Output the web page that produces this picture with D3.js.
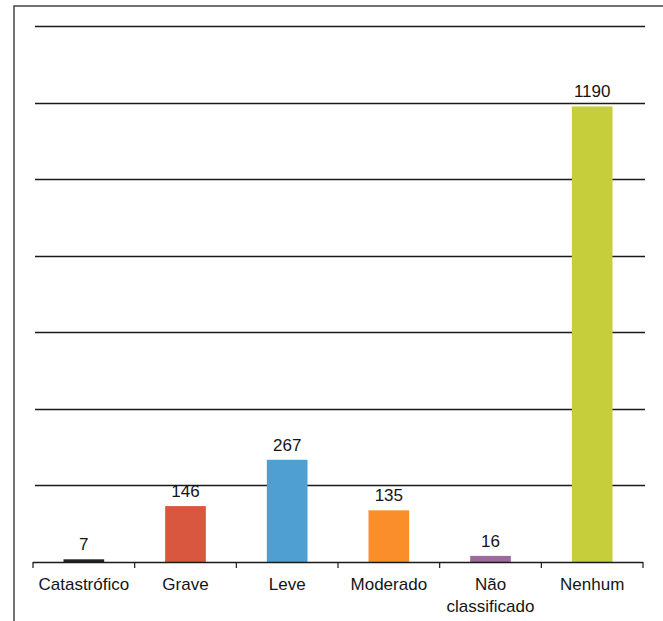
<!DOCTYPE html>
<html>
<head>
<meta charset="utf-8">
<script src="https://cdn.jsdelivr.net/npm/d3@7"></script>
<style>
  html, body { margin: 0; padding: 0; background: #fff; }
  svg { display: block; }
  text { font-family: "Liberation Sans", Arial, sans-serif; fill: #151515; }
</style>
</head>
<body>
<svg id="chart" width="663" height="621"></svg>
<script>
// Ocorrências por grau de dano
const categories = ["Catastrófico", "Grave", "Leve", "Moderado", "Não classificado", "Nenhum"];
const values = [7, 146, 267, 135, 16, 1190];
const colors = ["#222222", "#d8573e", "#4f9fd3", "#f98e2b", "#9c6b9c", "#c6cf3b"];
const yTicks = [0, 200, 400, 600, 800, 1000, 1200, 1400];

const svg = d3.select("#chart");
const margin = { left: 33, right: 20, top: 26, bottom: 59 };
const W = 663, H = 621;

const x = d3.scaleBand()
  .domain(categories)
  .range([margin.left, W - margin.right])
  .paddingInner(0.6)
  .paddingOuter(0.3);

const y = d3.scaleLinear()
  .domain([0, 1400])
  .range([H - margin.bottom, margin.top]);

// Outer frame
svg.append("rect")
  .attr("x", 14).attr("y", 6)
  .attr("width", 700).attr("height", 700)
  .attr("fill", "none")
  .attr("stroke", "#444").attr("stroke-width", 1.5);

// Horizontal gridlines
svg.append("g")
  .selectAll("line")
  .data(yTicks.filter(d => d > 0))
  .join("line")
  .attr("x1", 35).attr("x2", 645)
  .attr("y1", d => Math.round(y(d)) + 0.5)
  .attr("y2", d => Math.round(y(d)) + 0.5)
  .attr("stroke", "#1a1a1a").attr("stroke-width", 1.5);

// Bars
svg.append("g")
  .selectAll("rect")
  .data(values)
  .join("rect")
  .attr("x", (d, i) => x(categories[i]))
  .attr("width", x.bandwidth())
  .attr("y", d => y(d))
  .attr("height", d => y(0) - y(d))
  .attr("fill", (d, i) => colors[i]);

// Value labels
svg.append("g")
  .selectAll("text")
  .data(values)
  .join("text")
  .attr("x", (d, i) => x(categories[i]) + x.bandwidth() / 2)
  .attr("y", d => y(d) - 9)
  .attr("text-anchor", "middle")
  .attr("font-size", 17)
  .text(d => d);

// Category axis with ticks at band edges
const x0 = margin.left, x1 = W - margin.right;
const axis = svg.append("g");
axis.append("line")
  .attr("x1", x0).attr("x2", x1)
  .attr("y1", y(0) + 0.5).attr("y2", y(0) + 0.5)
  .attr("stroke", "#1a1a1a").attr("stroke-width", 1.5);

const edges = d3.range(categories.length + 1).map(i => x0 + i * (x1 - x0) / categories.length);
axis.selectAll("line.tick")
  .data(edges)
  .join("line")
  .attr("class", "tick")
  .attr("x1", d => d).attr("x2", d => d)
  .attr("y1", y(0)).attr("y2", y(0) + 6)
  .attr("stroke", "#1a1a1a").attr("stroke-width", 1.2);

const labels = axis.selectAll("text.cat")
  .data(categories)
  .join("text")
  .attr("class", "cat")
  .attr("x", d => x(d) + x.bandwidth() / 2)
  .attr("y", y(0) + 28)
  .attr("text-anchor", "middle")
  .attr("font-size", 17);

labels.each(function(d) {
  const words = d === "Não classificado" ? ["Não", "classificado"] : [d];
  const t = d3.select(this);
  words.forEach((w, i) => {
    t.append("tspan")
      .attr("x", x(d) + x.bandwidth() / 2)
      .attr("dy", i === 0 ? 0 : 22)
      .text(w);
  });
});
</script>
</body>
</html>
